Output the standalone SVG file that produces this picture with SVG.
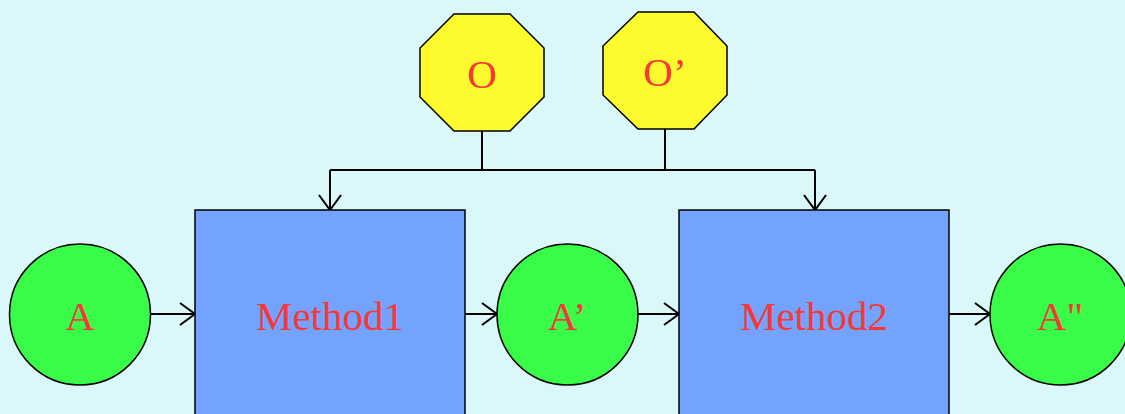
<svg xmlns="http://www.w3.org/2000/svg" width="1125" height="414" viewBox="0 0 1125 414">
<defs>
<style>
.bg{fill:#daf7fa}
.circ{fill:#38fc48;stroke:#000;stroke-width:1.5}
.box{fill:#73a3fe;stroke:#000;stroke-width:1.5}
.oct{fill:#fdfb2e;stroke:#000;stroke-width:1.5}
.lbl{font-family:"Liberation Serif","Times New Roman",serif;font-size:41px;fill:#f53838;text-anchor:middle}
.edge{fill:none;stroke:#000;stroke-width:2}
</style>
<marker id="arr" markerWidth="18" markerHeight="26" refX="16" refY="12" orient="auto" markerUnits="userSpaceOnUse">
<path d="M1,1 L16,12 L1,23" fill="none" stroke="#000" stroke-width="2"/>
</marker>
</defs>
<rect class="bg" x="0" y="0" width="1125" height="414"/>
<g id="connectors">
<path class="edge" d="M482,131 V170"/>
<path class="edge" d="M665,129 V170"/>
<path class="edge" d="M330,170 H815"/>
<path class="edge" d="M330,170 V210" marker-end="url(#arr)"/>
<path class="edge" d="M815,170 V210" marker-end="url(#arr)"/>
<path class="edge" d="M150,314 H195" marker-end="url(#arr)"/>
<path class="edge" d="M465,314 H497" marker-end="url(#arr)"/>
<path class="edge" d="M638,314 H679" marker-end="url(#arr)"/>
<path class="edge" d="M949,314 H990" marker-end="url(#arr)"/>
</g>
<g id="nodeO">
<polygon class="oct" points="454,14 510,14 544,48 544,97 510,131 454,131 420,97 420,48"/>
<text class="lbl" x="482" y="88">O</text>
</g>
<g id="nodeO2">
<polygon class="oct" points="638,12 694,12 727,46 727,95 694,129 638,129 603,95 603,46"/>
<text class="lbl" x="665" y="86">O’</text>
</g>
<g id="nodeMethod1">
<rect class="box" x="195" y="210" width="270" height="220"/>
<text class="lbl" x="330" y="330">Method1</text>
</g>
<g id="nodeMethod2">
<rect class="box" x="679" y="210" width="270" height="220"/>
<text class="lbl" x="814" y="330">Method2</text>
</g>
<g id="nodeA">
<circle class="circ" cx="80" cy="314.5" r="70.5"/>
<text class="lbl" x="80" y="330">A</text>
</g>
<g id="nodeA1">
<circle class="circ" cx="567.5" cy="314.5" r="70.5"/>
<text class="lbl" x="567" y="330">A’</text>
</g>
<g id="nodeA2">
<circle class="circ" cx="1060.5" cy="314.5" r="70.5"/>
<text class="lbl" x="1060" y="330">A"</text>
</g>
</svg>
